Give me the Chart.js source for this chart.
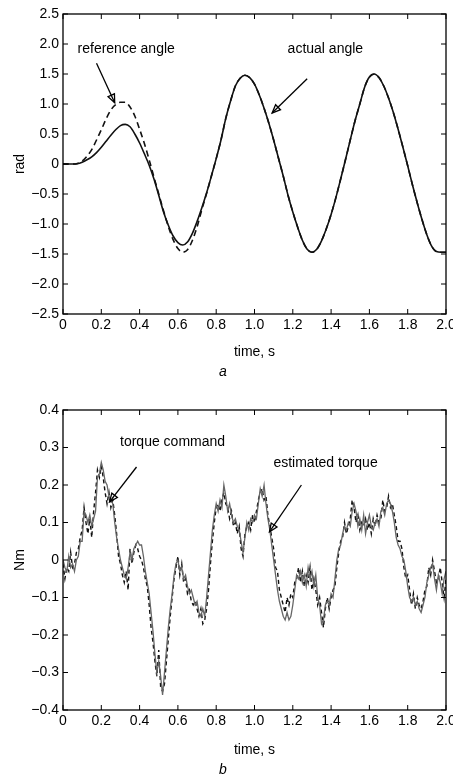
<!DOCTYPE html>
<html>
<head>
<meta charset="utf-8">
<script src="https://cdn.jsdelivr.net/npm/chart.js@4.4.1/dist/chart.umd.min.js"></script>
<style>
  html, body { margin: 0; padding: 0; background: #fff; }
  .box { position: absolute; left: 0; width: 453px; height: 390px; }
  #boxA { top: 0; }
  #boxB { top: 390px; }
</style>
</head>
<body>
<div class="box" id="boxA"><canvas id="angleChart"></canvas></div>
<div class="box" id="boxB"><canvas id="torqueChart"></canvas></div>
<script>
// time samples (s)
const angleTime = Array.from({ length: 81 }, (_, i) => +(i * 0.025).toFixed(3));
const torqueTime = Array.from({ length: 201 }, (_, i) => +(i * 0.01).toFixed(2));

const actualAngle = [
  0, 0, 0, 0.005, 0.03, 0.07, 0.12, 0.19, 0.28, 0.38,
  0.48, 0.57, 0.64, 0.66, 0.62, 0.5, 0.35, 0.17, -0.02, -0.25,
  -0.52, -0.8, -1.02, -1.2, -1.31, -1.35, -1.3, -1.16, -0.96, -0.73,
  -0.48, -0.2, 0.09, 0.4, 0.76, 1.05, 1.3, 1.43, 1.48, 1.44,
  1.33, 1.15, 0.93, 0.68, 0.4, 0.1, -0.2, -0.52, -0.8, -1.05,
  -1.27, -1.42, -1.47, -1.42, -1.28, -1.08, -0.84, -0.56, -0.25, 0.07,
  0.4, 0.72, 1.0, 1.28, 1.45, 1.5, 1.44, 1.3, 1.1, 0.86,
  0.58, 0.28, -0.03, -0.35, -0.65, -0.93, -1.18, -1.37, -1.46, -1.47,
  -1.47
];
const referenceAngle = [
  0, 0, 0, 0.01, 0.05, 0.13, 0.24, 0.4, 0.57, 0.75,
  0.9, 0.99, 1.03, 1.03, 0.95, 0.8, 0.58, 0.34, 0.07, -0.22,
  -0.5, -0.78, -1.04, -1.26, -1.41, -1.47, -1.43, -1.28, -1.05, -0.76,
  -0.49, -0.2, 0.09, 0.4, 0.76, 1.05, 1.3, 1.43, 1.48, 1.44,
  1.33, 1.15, 0.93, 0.68, 0.4, 0.1, -0.2, -0.52, -0.8, -1.05,
  -1.27, -1.42, -1.47, -1.42, -1.28, -1.08, -0.84, -0.56, -0.25, 0.07,
  0.4, 0.72, 1.0, 1.28, 1.45, 1.5, 1.44, 1.3, 1.1, 0.86,
  0.58, 0.28, -0.03, -0.35, -0.65, -0.93, -1.18, -1.37, -1.46, -1.47,
  -1.47
];

const estimatedTorque = [
  0.00, -0.02, -0.03, 0.01, -0.02, -0.01, -0.03, 0.00, 0.01, 0.05,
  0.05, 0.13, 0.12, 0.10, 0.12, 0.09, 0.11, 0.13, 0.22, 0.23,
  0.26, 0.24, 0.21, 0.20, 0.17, 0.16, 0.15, 0.10, 0.06, 0.03,
  0.00, -0.02, -0.04, -0.05, -0.02, 0.02, 0.00, 0.03, 0.04, 0.05,
  0.04, 0.04, 0.01, -0.03, -0.06, -0.09, -0.14, -0.19, -0.25, -0.30,
  -0.27, -0.31, -0.36, -0.30, -0.24, -0.18, -0.13, -0.09, -0.04, -0.01,
  0.00, -0.03, -0.02, -0.05, -0.04, -0.07, -0.09, -0.08, -0.10, -0.12,
  -0.11, -0.14, -0.15, -0.13, -0.15, -0.10, -0.04, 0.02, 0.08, 0.12,
  0.15, 0.13, 0.16, 0.14, 0.20, 0.17, 0.13, 0.15, 0.12, 0.10,
  0.11, 0.09, 0.08, 0.05, 0.02, 0.06, 0.10, 0.08, 0.11, 0.10,
  0.12, 0.11, 0.15, 0.19, 0.17, 0.20, 0.15, 0.11, 0.08, 0.04,
  0.00, -0.04, -0.08, -0.11, -0.13, -0.15, -0.16, -0.14, -0.16, -0.15,
  -0.12, -0.08, -0.04, -0.05, -0.03, -0.06, -0.04, -0.07, -0.02, -0.05,
  -0.03, -0.07, -0.04, -0.10, -0.12, -0.17, -0.16, -0.12, -0.11, -0.12,
  -0.09, -0.10, -0.05, 0.00, 0.03, 0.04, 0.07, 0.09, 0.08, 0.10,
  0.09, 0.13, 0.15, 0.13, 0.09, 0.11, 0.08, 0.12, 0.07, 0.10,
  0.12, 0.09, 0.08, 0.10, 0.11, 0.09, 0.13, 0.14, 0.12, 0.15,
  0.16, 0.15, 0.13, 0.10, 0.06, 0.04, 0.03, 0.01, 0.00, -0.03,
  -0.07, -0.10, -0.11, -0.10, -0.12, -0.11, -0.13, -0.14, -0.12, -0.10,
  -0.06, -0.04, -0.02, -0.01, -0.05, -0.08, -0.04, -0.06, -0.09, -0.05,
  -0.03
];
const torqueCommand = [
  -0.01, -0.05, -0.02, -0.03, 0.02, -0.02, -0.01, 0.02, 0.03, 0.06,
  0.08, 0.14, 0.10, 0.07, 0.11, 0.06, 0.13, 0.18, 0.24, 0.22,
  0.25, 0.22, 0.18, 0.15, 0.18, 0.14, 0.16, 0.12, 0.07, 0.01,
  -0.01, -0.04, -0.06, -0.03, -0.08, 0.03, -0.01, 0.02, 0.04, 0.03,
  0.01, 0.00, -0.02, -0.05, -0.07, -0.12, -0.18, -0.22, -0.27, -0.31,
  -0.24, -0.34, -0.35, -0.33, -0.27, -0.21, -0.15, -0.10, -0.05, -0.02,
  0.01, -0.04, -0.01, -0.06, -0.05, -0.09, -0.08, -0.11, -0.12, -0.11,
  -0.13, -0.15, -0.13, -0.17, -0.16, -0.13, -0.08, -0.01, 0.05, 0.10,
  0.14, 0.15, 0.13, 0.16, 0.18, 0.15, 0.14, 0.11, 0.13, 0.09,
  0.10, 0.07, 0.09, 0.03, 0.01, 0.07, 0.09, 0.10, 0.08, 0.12,
  0.10, 0.13, 0.16, 0.18, 0.19, 0.16, 0.17, 0.12, 0.09, 0.06,
  0.03, -0.02, -0.03, -0.08, -0.10, -0.12, -0.14, -0.10, -0.12, -0.09,
  -0.10, -0.06, -0.05, -0.02, -0.06, -0.03, -0.07, -0.04, -0.06, -0.02,
  -0.08, -0.05, -0.08, -0.12, -0.10, -0.14, -0.18, -0.13, -0.10, -0.13,
  -0.10, -0.08, -0.07, -0.02, 0.02, 0.05, 0.06, 0.10, 0.07, 0.09,
  0.11, 0.16, 0.14, 0.10, 0.12, 0.08, 0.10, 0.09, 0.11, 0.08,
  0.10, 0.07, 0.11, 0.09, 0.12, 0.10, 0.11, 0.16, 0.13, 0.14,
  0.17, 0.14, 0.15, 0.12, 0.09, 0.05, 0.05, 0.03, -0.02, -0.05,
  -0.04, -0.08, -0.12, -0.09, -0.13, -0.10, -0.12, -0.13, -0.11, -0.08,
  -0.07, -0.02, -0.04, 0.00, -0.03, -0.06, -0.05, -0.02, -0.06, -0.10,
  -0.05
];

const FONT = 'Liberation Sans, Arial, sans-serif';

function fmt(v) {
  if (Math.abs(v) < 1e-9) return '0';
  return v.toFixed(1).replace('-', '\u2212');
}

// matlab-ish frame: box all round, inward ticks, text notes with arrows
const framePlugin = {
  id: 'frame',
  afterDraw(chart, args, opts) {
    const { ctx, chartArea: a, scales } = chart;
    const xs = scales.x, ys = scales.y;
    const len = 5;
    ctx.save();
    ctx.strokeStyle = '#000';
    ctx.lineWidth = 1.3;
    ctx.strokeRect(a.left, a.top, a.right - a.left, a.bottom - a.top);
    ctx.lineWidth = 1;
    ctx.beginPath();
    xs.ticks.forEach(t => {
      const px = xs.getPixelForValue(t.value);
      ctx.moveTo(px, a.bottom); ctx.lineTo(px, a.bottom - len);
      ctx.moveTo(px, a.top); ctx.lineTo(px, a.top + len);
    });
    ys.ticks.forEach(t => {
      const py = ys.getPixelForValue(t.value);
      ctx.moveTo(a.left, py); ctx.lineTo(a.left + len, py);
      ctx.moveTo(a.right, py); ctx.lineTo(a.right - len, py);
    });
    ctx.stroke();

    ctx.fillStyle = '#000';
    ctx.font = '14px ' + FONT;
    ctx.textAlign = 'center';
    ctx.textBaseline = 'middle';
    (opts.notes || []).forEach(n => {
      ctx.fillText(n.text, xs.getPixelForValue(n.at[0]), ys.getPixelForValue(n.at[1]));
      const x0 = xs.getPixelForValue(n.from[0]), y0 = ys.getPixelForValue(n.from[1]);
      const x1 = xs.getPixelForValue(n.to[0]), y1 = ys.getPixelForValue(n.to[1]);
      const ang = Math.atan2(y1 - y0, x1 - x0);
      ctx.lineWidth = 1.3;
      ctx.beginPath();
      ctx.moveTo(x0, y0); ctx.lineTo(x1, y1);
      ctx.stroke();
      ctx.beginPath();
      ctx.moveTo(x1, y1);
      ctx.lineTo(x1 - 9 * Math.cos(ang - 0.4), y1 - 9 * Math.sin(ang - 0.4));
      ctx.lineTo(x1 - 9 * Math.cos(ang + 0.4), y1 - 9 * Math.sin(ang + 0.4));
      ctx.closePath();
      ctx.stroke();
    });
    ctx.restore();
  }
};

function makeOptions(cfg) {
  return {
    responsive: true,
    maintainAspectRatio: false,
    animation: false,
    layout: { padding: { top: cfg.padTop, right: 7, left: 0, bottom: 0 } },
    plugins: {
      legend: { display: false },
      tooltip: { enabled: false },
      title: {
        display: true,
        position: 'bottom',
        text: cfg.letter,
        color: '#000',
        font: { family: FONT, size: 14, style: 'italic', weight: 'normal' },
        padding: { top: 2, bottom: cfg.letterPad }
      },
      frame: { notes: cfg.notes }
    },
    scales: {
      x: {
        type: 'linear',
        min: 0, max: 2,
        afterFit: s => { s.height = cfg.xHeight; s.paddingLeft = 0; s.paddingRight = 0; },
        grid: { drawOnChartArea: false, drawTicks: false },
        border: { display: false },
        ticks: {
          stepSize: 0.2, padding: 3, color: '#000', maxRotation: 0,
          font: { family: FONT, size: 14 },
          callback: v => fmt(v)
        },
        title: {
          display: true, text: 'time, s', color: '#000',
          font: { family: FONT, size: 14 },
          padding: { top: 0, bottom: cfg.xTitlePad }
        }
      },
      y: {
        min: cfg.yMin, max: cfg.yMax,
        afterFit: s => { s.width = 63; },
        grid: { drawOnChartArea: false, drawTicks: false },
        border: { display: false },
        ticks: {
          stepSize: cfg.yStep, padding: 4, color: '#000',
          font: { family: FONT, size: 14 },
          callback: v => fmt(v)
        },
        title: {
          display: true, text: cfg.yTitle, color: '#000',
          font: { family: FONT, size: 14 },
          padding: { top: 11.6, bottom: 0 }
        }
      }
    }
  };
}

new Chart(document.getElementById('angleChart'), {
  type: 'line',
  data: {
    labels: angleTime,
    datasets: [
      {
        label: 'actual angle', data: actualAngle,
        borderColor: '#111', borderWidth: 1.6, pointRadius: 0,
        tension: 0.4, cubicInterpolationMode: 'monotone'
      },
      {
        label: 'reference angle', data: referenceAngle,
        borderColor: '#111', borderWidth: 1.6, borderDash: [6, 4], pointRadius: 0,
        tension: 0.4, cubicInterpolationMode: 'monotone'
      }
    ]
  },
  options: makeOptions({
    padTop: 14, letter: 'a', letterPad: 9.6, xHeight: 47.6, xTitlePad: 1,
    yMin: -2.5, yMax: 2.5, yStep: 0.5, yTitle: 'rad',
    notes: [
      { text: 'reference angle', at: [0.33, 1.92], from: [0.175, 1.68], to: [0.27, 1.02] },
      { text: 'actual angle', at: [1.37, 1.92], from: [1.275, 1.42], to: [1.092, 0.85] }
    ]
  }),
  plugins: [framePlugin]
});

new Chart(document.getElementById('torqueChart'), {
  type: 'line',
  data: {
    labels: torqueTime,
    datasets: [
      {
        label: 'estimated torque', data: estimatedTorque,
        borderColor: '#666', borderWidth: 1.3, pointRadius: 0, tension: 0
      },
      {
        label: 'torque command', data: torqueCommand,
        borderColor: '#111', borderWidth: 1.4, borderDash: [4, 3], pointRadius: 0, tension: 0
      }
    ]
  },
  options: makeOptions({
    padTop: 20, letter: 'b', letterPad: 1.6, xHeight: 49.6, xTitlePad: 1.2,
    yMin: -0.4, yMax: 0.4, yStep: 0.1, yTitle: 'Nm',
    notes: [
      { text: 'torque command', at: [0.572, 0.315], from: [0.384, 0.248], to: [0.243, 0.155] },
      { text: 'estimated torque', at: [1.371, 0.259], from: [1.245, 0.2], to: [1.078, 0.075] }
    ]
  }),
  plugins: [framePlugin]
});
</script>
</body>
</html>
